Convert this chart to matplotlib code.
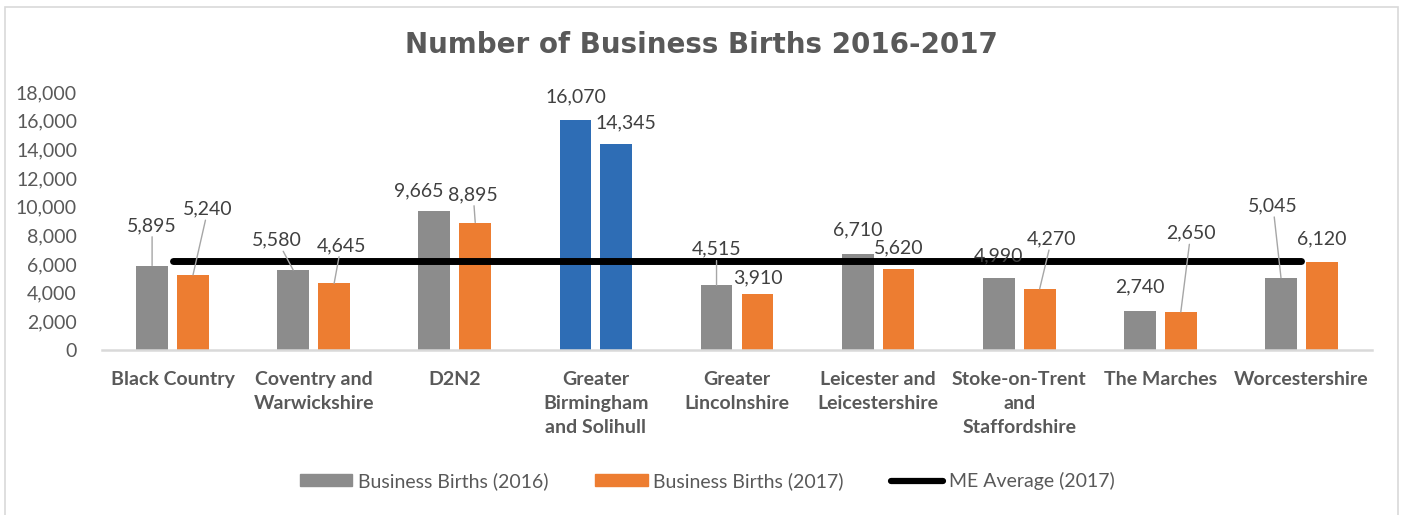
import matplotlib.pyplot as plt
import numpy as np
from matplotlib.lines import Line2D
from matplotlib.patches import Patch, Rectangle

# data
regions = ["Black Country", "Coventry and\nWarwickshire", "D2N2",
           "Greater\nBirmingham\nand Solihull", "Greater\nLincolnshire",
           "Leicester and\nLeicestershire", "Stoke-on-Trent\nand\nStaffordshire",
           "The Marches", "Worcestershire"]
births_2016 = [5895, 5580, 9665, 16070, 4515, 6710, 4990, 2740, 5045]
births_2017 = [5240, 4645, 8895, 14345, 3910, 5620, 4270, 2650, 6120]
me_average_2017 = 6190
highlight = "Greater\nBirmingham\nand Solihull"

# label placement (pixel offset of label centre from bar top, leader line or not)
offs_2016 = [(0, 40, True), (-16, 30, True), (-16, 21, False), (0, 23, False), (0, 36, True),
             (0, 24, False), (0, 23, False), (0, 24, False), (-8, 72, True)]
offs_2017 = [(15, 66, True), (7, 38, True), (-2, 28, True), (10, 22, False), (0, 16, False),
             (0, 22, False), (12, 50, True), (10, 79, True), (0, 23, False)]

GREY = "#8C8C8C"
ORANGE = "#ED7D31"
BLUE = "#2E6DB5"
TXT = "#595959"
FONT = "Lato"

fig = plt.figure(figsize=(14.03, 5.15), dpi=100)
ax = fig.add_axes([102 / 1403, 1 - 350 / 515, 1270 / 1403, 258 / 515])

x = np.arange(len(regions))
w = 0.225
c16 = [BLUE if r == highlight else GREY for r in regions]
c17 = [BLUE if r == highlight else ORANGE for r in regions]
b16 = ax.bar(x - 0.145, births_2016, w, color=c16, zorder=2)
b17 = ax.bar(x + 0.145, births_2017, w, color=c17, zorder=2)

ax.plot(x, [me_average_2017] * len(x), color="black", lw=5,
        solid_capstyle="round", zorder=3)


def add_labels(bars, vals, offs):
    for b, v, (dx, dy, lead) in zip(bars, vals, offs):
        xy = (b.get_x() + b.get_width() / 2, v)
        kw = {}
        if lead:
            kw["arrowprops"] = dict(arrowstyle="-", color="#A6A6A6", lw=1,
                                    shrinkA=0, shrinkB=0)
        ax.annotate(f"{v:,}", xy=xy, xytext=(dx, dy), textcoords="offset pixels",
                    ha="center", va="center", fontsize=14, color="#404040",
                    family=FONT, zorder=4, **kw)


add_labels(b16, births_2016, offs_2016)
add_labels(b17, births_2017, offs_2017)

ax.set_xlim(-0.5, len(regions) - 0.5)
ax.set_ylim(0, 18000)
ax.set_yticks(np.arange(0, 18001, 2000))
ax.set_yticklabels([f"{v:,}" for v in range(0, 18001, 2000)], family=FONT,
                   fontsize=14, color=TXT)
ax.set_xticks(x)
ax.set_xticklabels(regions, family=FONT, fontsize=14, fontweight="bold",
                   color=TXT, linespacing=1.5, va="top")
ax.tick_params(axis="y", length=0, pad=18)
ax.tick_params(axis="x", length=0, pad=15)
for s in ["top", "right", "left"]:
    ax.spines[s].set_visible(False)
ax.spines["bottom"].set_color("#D9D9D9")
ax.spines["bottom"].set_linewidth(1.8)

fig.text(0.5, 1 - 45 / 515, "Number of Business Births 2016-2017", ha="center",
         va="center", fontsize=20, fontweight="bold", color=TXT,
         family="DejaVu Sans")

handles = [Patch(color=GREY), Patch(color=ORANGE),
           Line2D([], [], color="black", lw=4.5, solid_capstyle="round")]
fig.legend(handles, ["Business Births (2016)", "Business Births (2017)", "ME Average (2017)"],
           loc="center", bbox_to_anchor=(0.504, 1 - 481 / 515), ncol=3, frameon=False,
           prop={"family": FONT, "size": 14}, labelcolor=TXT, handlelength=2.7,
           handleheight=0.6, handletextpad=0.3, columnspacing=2.4)

fig.add_artist(Rectangle((5 / 1403, -0.1), 1393 / 1403, 1.1 - 7 / 515,
                         transform=fig.transFigure, fill=False,
                         edgecolor="#D9D9D9", lw=1.2))

fig.savefig("out.png", dpi=100)
